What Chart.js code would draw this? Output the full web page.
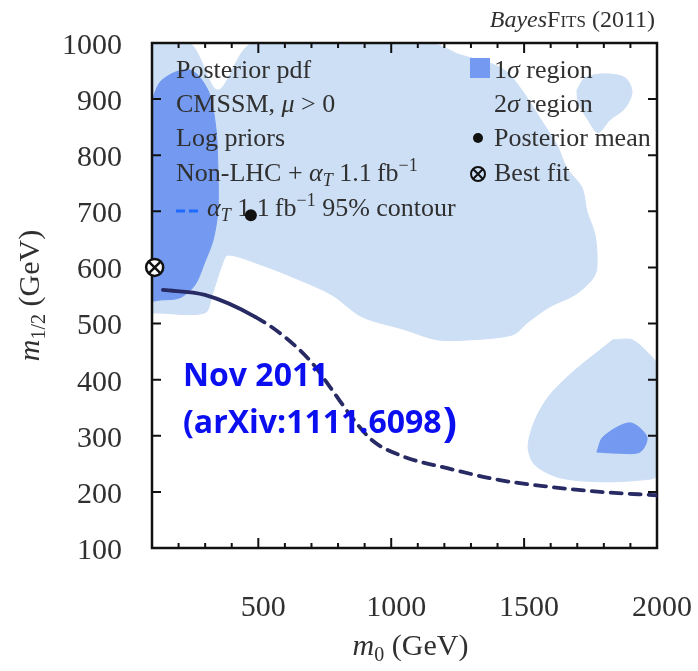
<!DOCTYPE html>
<html>
<head>
<meta charset="utf-8">
<script src="https://cdn.jsdelivr.net/npm/chart.js@4.4.1/dist/chart.umd.min.js"></script>
<style>
  html, body { margin: 0; padding: 0; background: #fff; }
  #wrap { width: 698px; height: 671px; }
</style>
</head>
<body>
<div id="wrap"><canvas id="c" width="698" height="671"></canvas></div>
<script>
// ---- axes ----
const m0Range = [100, 2000];
const m12Range = [100, 1000];
const m0Ticks = [500, 1000, 1500, 2000];
const m0TickMarks = [200, 300, 400, 500, 600, 700, 800, 900, 1000, 1100, 1200, 1300, 1400, 1500, 1600, 1700, 1800, 1900];
const m0MajorMarks = [500, 1000, 1500];
const m12Ticks = [100, 200, 300, 400, 500, 600, 700, 800, 900, 1000];

// ---- alpha_T 1.1 fb^-1 95% contour ----
const contourM0  = [141, 299, 488, 600, 702, 777, 852, 928, 1052, 1195, 1409, 1597, 1786, 2000];
const contourM12 = [560, 551, 512, 476, 430, 382, 333, 292, 262, 244, 221, 209, 200, 194];

// ---- points (m0, m1/2) ----
const posteriorMean = [472, 693];
const bestFit = [110, 600];

// ---- 2 sigma credible regions, outlines in (m0, m1/2) ----
const sigma2Main = [
  [100, 1000], [243, 1000], [348, 916], [480, 1000], [1146, 1000], [1259, 979],
  [1372, 964], [1436, 948], [1496, 913], [1560, 866], [1624, 818], [1661, 777],
  [1718, 742], [1737, 699], [1767, 658], [1774, 599], [1755, 578], [1691, 551],
  [1597, 530], [1511, 501], [1458, 480], [1296, 471], [1172, 471], [1052, 489],
  [890, 512], [777, 551], [638, 581], [514, 604], [386, 622], [363, 604],
  [326, 551], [299, 519], [111, 519], [100, 519], [100, 1000]
];
const sigma2Island = [
  [1699, 916], [1729, 938], [1804, 945], [1880, 938], [1906, 913], [1880, 884],
  [1823, 863], [1778, 840], [1740, 863], [1703, 895], [1699, 916]
];
const sigma2LowRight = [
  [1834, 471], [1906, 471], [1974, 444], [2000, 426], [2000, 230], [1936, 221],
  [1786, 218], [1635, 225], [1541, 248], [1515, 280], [1541, 328], [1597, 373],
  [1691, 417], [1786, 453], [1834, 471]
];

// ---- 1 sigma credible regions ----
const sigma1Left = [
  [100, 898], [130, 930], [187, 948], [243, 952], [281, 938], [318, 907],
  [341, 845], [348, 774], [348, 702], [330, 649], [299, 610], [262, 569],
  [205, 546], [130, 542], [100, 542], [100, 898]
];
const sigma1LowRight = [
  [1774, 271], [1797, 298], [1898, 323], [1962, 298], [1936, 271], [1850, 269], [1774, 271]
];

const COL_1S = '#739af0';
const COL_2S = '#cddff5';
const COL_LINE = '#272a63';
const TEXT = '#303030';
const SERIF = '"Liberation Serif", "Times New Roman", serif';

const toXY = pts => pts.map(([x, y]) => ({ x, y }));

function region(label, pts, color) {
  return {
    label, data: toXY(pts),
    backgroundColor: color, borderColor: color, borderWidth: 1,
    fill: 'shape', tension: 0.3, pointRadius: 0, pointHoverRadius: 0
  };
}

// draws a run of text pieces: [text, font, dy]
function runText(ctx, x, y, parts, align) {
  let total = 0;
  const widths = parts.map(p => { ctx.font = p[1]; const w = ctx.measureText(p[0]).width; total += w; return w; });
  let cx = align === 'right' ? x - total : align === 'center' ? x - total / 2 : x;
  ctx.textAlign = 'left';
  ctx.textBaseline = 'alphabetic';
  parts.forEach((p, i) => { ctx.font = p[1]; ctx.fillText(p[0], cx, y + (p[2] || 0)); cx += widths[i]; });
  return cx;
}

function drawFrame(chart) {
  const { ctx, chartArea: a, scales: { x, y } } = chart;
  ctx.save();
  ctx.strokeStyle = '#111';
  ctx.lineWidth = 2;
  ctx.beginPath();
  m0TickMarks.forEach(v => {
    const px = x.getPixelForValue(v);
    const len = m0MajorMarks.includes(v) ? 10 : 5;
    ctx.moveTo(px, a.bottom); ctx.lineTo(px, a.bottom - len);
    ctx.moveTo(px, a.top); ctx.lineTo(px, a.top + len);
  });
  m12Ticks.forEach(v => {
    const py = y.getPixelForValue(v);
    ctx.moveTo(a.left, py); ctx.lineTo(a.left + 9, py);
    ctx.moveTo(a.right, py); ctx.lineTo(a.right - 9, py);
  });
  ctx.stroke();
  ctx.lineWidth = 2.5;
  ctx.strokeRect(a.left, a.top, a.right - a.left, a.bottom - a.top);
  ctx.restore();
}

function drawLegend(chart) {
  const { ctx, chartArea: a } = chart;
  const R = '26px ' + SERIF, I = 'italic 26px ' + SERIF;
  const S = '18px ' + SERIF, SI = 'italic 18px ' + SERIF;
  ctx.save();
  ctx.fillStyle = TEXT;
  const lx = a.left + 24;
  runText(ctx, lx, a.top + 35, [['Posterior pdf', R]]);
  runText(ctx, lx, a.top + 69, [['CMSSM, ', R], ['\u03bc', I], [' > 0', R]]);
  runText(ctx, lx, a.top + 103, [['Log priors', R]]);
  runText(ctx, lx, a.top + 138, [['Non-LHC + ', R], ['\u03b1', I], ['T', SI, 5], [' 1.1\u2009fb', R], ['\u22121', S, -10]]);
  // blue dashed sample
  ctx.strokeStyle = '#1f6bff';
  ctx.lineWidth = 3;
  ctx.beginPath();
  ctx.moveTo(lx, a.top + 168); ctx.lineTo(lx + 9, a.top + 168);
  ctx.moveTo(lx + 13, a.top + 168); ctx.lineTo(lx + 22, a.top + 168);
  ctx.stroke();
  runText(ctx, lx + 31, a.top + 173, [['\u03b1', I], ['T', SI, 5], [' 1.1\u2009fb', R], ['\u22121', S, -10], [' 95% contour', R]]);

  // right column
  const rx = a.left + 342;
  ctx.fillStyle = COL_1S;
  ctx.fillRect(rx - 24, a.top + 15, 20, 20);
  ctx.fillStyle = TEXT;
  runText(ctx, rx, a.top + 35, [['1', R], ['\u03c3', I], [' region', R]]);
  runText(ctx, rx, a.top + 69, [['2', R], ['\u03c3', I], [' region', R]]);
  runText(ctx, rx, a.top + 103, [['Posterior mean', R]]);
  runText(ctx, rx, a.top + 138, [['Best fit', R]]);
  ctx.fillStyle = '#111';
  ctx.beginPath(); ctx.arc(rx - 16, a.top + 95, 5, 0, Math.PI * 2); ctx.fill();
  // small best-fit symbol
  const bx = rx - 16, by = a.top + 131, br = 7;
  ctx.strokeStyle = '#111'; ctx.lineWidth = 2;
  ctx.beginPath(); ctx.arc(bx, by, br, 0, Math.PI * 2); ctx.stroke();
  const d = br * Math.SQRT1_2;
  ctx.beginPath();
  ctx.moveTo(bx - d, by - d); ctx.lineTo(bx + d, by + d);
  ctx.moveTo(bx + d, by - d); ctx.lineTo(bx - d, by + d);
  ctx.stroke();
  ctx.restore();
}

function drawTitles(chart) {
  const { ctx, chartArea: a } = chart;
  ctx.save();
  ctx.fillStyle = TEXT;
  // top-right tag
  runText(ctx, a.right - 2, 27, [['Bayes', 'italic 24px ' + SERIF], ['F', '24px ' + SERIF], ['ITS', '17px ' + SERIF], [' (2011)', '24px ' + SERIF]], 'right');
  // x title
  runText(ctx, (a.left + a.right) / 2 + 6, 655, [['m', 'italic 30px ' + SERIF], ['0', '20px ' + SERIF, 6], [' (GeV)', '30px ' + SERIF]], 'center');
  // y title
  ctx.translate(39, (a.top + a.bottom) / 2);
  ctx.rotate(-Math.PI / 2);
  runText(ctx, 0, 0, [['m', 'italic 30px ' + SERIF], ['1/2', '20px ' + SERIF, 6], [' (GeV)', '30px ' + SERIF]], 'center');
  ctx.restore();
}

function drawNote(chart) {
  const { ctx, chartArea: a } = chart;
  ctx.save();
  ctx.fillStyle = '#0b0ff0';
  const B = 'bold 32px "Open Sans", "Noto Sans", sans-serif';
  runText(ctx, a.left + 31, 386, [['Nov 2011', B]]);
  const end = runText(ctx, a.left + 31, 433, [['(arXiv:1111.6098', B]]);
  runText(ctx, end + 1, 437, [[')', 'bold 42px "Open Sans", "Noto Sans", sans-serif']]);
  ctx.restore();
}

const decor = {
  id: 'decor',
  beforeDatasetDraw(chart, args) {
    // frame and key go above the shaded regions, below the curve and markers
    if (args.index === 3) { drawFrame(chart); drawLegend(chart); }
  },
  afterDraw(chart) { drawTitles(chart); drawNote(chart); }
};

const tickFont = { family: SERIF, size: 30 };

new Chart(document.getElementById('c'), {
  type: 'line',
  data: {
    datasets: [
      { label: 'Best fit', data: toXY([bestFit]), showLine: false, pointStyle: 'crossRot',
        pointRadius: 8, borderColor: '#111', borderWidth: 2.5, clip: false },
      { label: 'Best fit ring', data: toXY([bestFit]), showLine: false, pointStyle: 'circle',
        pointRadius: 8.5, backgroundColor: '#ffffff', borderColor: '#111', borderWidth: 2.5, clip: false },
      { label: 'Posterior mean', data: toXY([posteriorMean]), showLine: false,
        pointRadius: 6, backgroundColor: '#111', borderColor: '#111', borderWidth: 0 },
      { label: 'contour', data: contourM0.map((x, i) => ({ x, y: contourM12[i] })),
        borderColor: COL_LINE, borderWidth: 3.8, borderCapStyle: 'round', fill: false,
        cubicInterpolationMode: 'monotone', pointRadius: 0,
        segment: { borderDash: c => (c.p0DataIndex < 2 ? undefined : [11, 8]) } },
      region('1s left', sigma1Left, COL_1S),
      region('1s low right', sigma1LowRight, COL_1S),
      region('2s main', sigma2Main, COL_2S),
      region('2s island', sigma2Island, COL_2S),
      region('2s low right', sigma2LowRight, COL_2S)
    ]
  },
  options: {
    responsive: false,
    animation: false,
    devicePixelRatio: 1,
    events: [],
    layout: { padding: { left: 0, right: 41, top: 43, bottom: 0 } },
    plugins: { legend: { display: false }, tooltip: { enabled: false }, title: { display: false } },
    scales: {
      x: {
        type: 'linear', position: 'bottom', min: m0Range[0], max: m0Range[1],
        afterBuildTicks: s => { s.ticks = m0Ticks.map(v => ({ value: v })); },
        afterFit: s => { s.height = 123; s.paddingLeft = 0; s.paddingRight = 0; },
        grid: { display: false, drawTicks: false }, border: { display: false },
        ticks: { padding: 42, labelOffset: 5, font: tickFont, color: TEXT, maxRotation: 0, autoSkip: false,
                 callback: v => String(v) }
      },
      y: {
        type: 'linear', position: 'left', min: m12Range[0], max: m12Range[1],
        afterBuildTicks: s => { s.ticks = m12Ticks.map(v => ({ value: v })); },
        afterFit: s => { s.width = 152; s.paddingTop = 0; s.paddingBottom = 0; },
        grid: { display: false, drawTicks: false }, border: { display: false },
        ticks: { padding: 30, labelOffset: 3, font: tickFont, color: TEXT, autoSkip: false, callback: v => String(v) }
      }
    }
  },
  plugins: [decor]
});
</script>
</body>
</html>
